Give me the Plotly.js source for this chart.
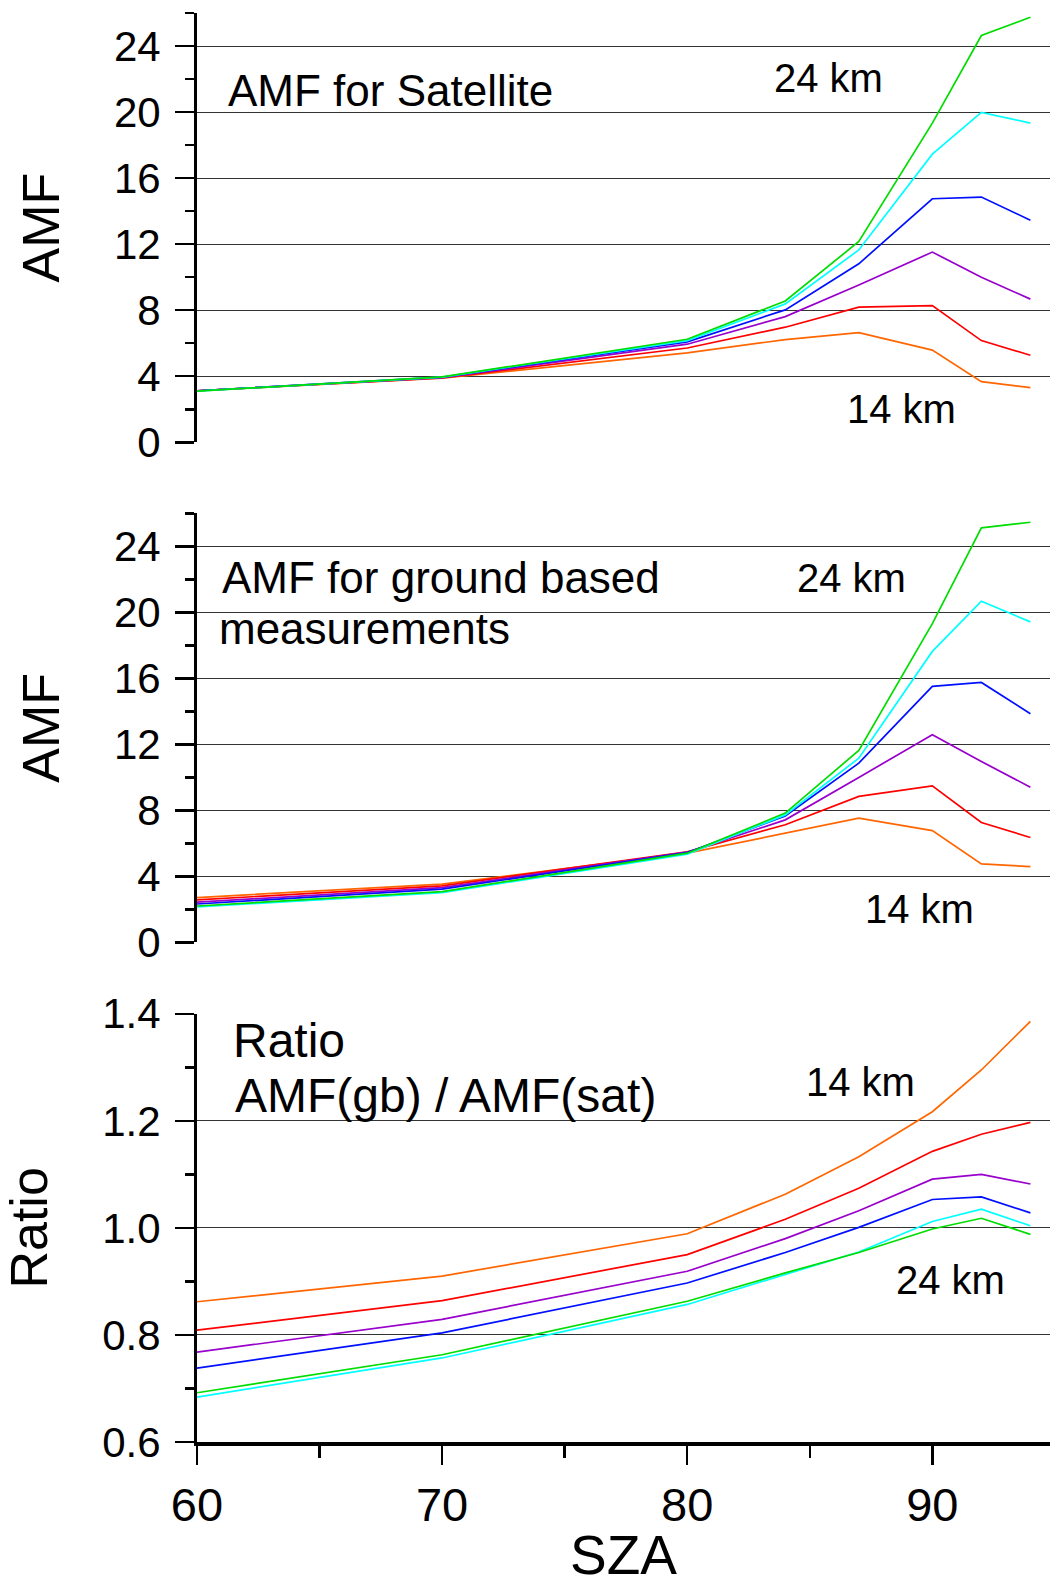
<!DOCTYPE html>
<html>
<head>
<meta charset="utf-8">
<script src="https://cdn.plot.ly/plotly-3.0.1.min.js"></script>
<style>
  html, body { margin: 0; padding: 0; background: #ffffff; }
  #chart { width: 1050px; height: 1586px; }
</style>
</head>
<body>
<div id="chart"></div>
<script>
// Solar zenith angles (x values)
const sza = [60, 70, 80, 84, 87, 90, 92, 94];

// Altitude labels for the six curves
const altitudes = ["14 km", "16 km", "18 km", "20 km", "22 km", "24 km"];
const colors = ["#ff6600", "#ff0000", "#9900cc", "#0010ff", "#00ffff", "#00dd00"];

// AMF for satellite
const sat14 = [3.12, 3.88, 5.41, 6.22, 6.64, 5.58, 3.67, 3.31];
const sat16 = [3.12, 3.90, 5.71, 6.97, 8.18, 8.28, 6.16, 5.27];
const sat18 = [3.12, 3.92, 5.94, 7.61, 9.53, 11.52, 10.00, 8.67];
const sat20 = [3.12, 3.94, 6.08, 8.02, 10.81, 14.75, 14.85, 13.45];
const sat22 = [3.10, 3.95, 6.16, 8.38, 11.65, 17.45, 19.98, 19.33];
const sat24 = [3.10, 3.96, 6.24, 8.56, 12.16, 19.33, 24.64, 25.74];

// AMF for ground based measurements
const gb14 = [2.71, 3.52, 5.40, 6.61, 7.52, 6.77, 4.75, 4.59];
const gb16 = [2.57, 3.42, 5.48, 7.12, 8.84, 9.48, 7.26, 6.35];
const gb18 = [2.43, 3.31, 5.46, 7.42, 9.99, 12.58, 10.96, 9.40];
const gb20 = [2.32, 3.22, 5.44, 7.66, 10.86, 15.51, 15.75, 13.85];
const gb22 = [2.14, 3.01, 5.34, 7.72, 11.16, 17.63, 20.67, 19.42];
const gb24 = [2.20, 3.07, 5.40, 7.83, 11.63, 19.31, 25.12, 25.46];

// Ratio AMF(gb) / AMF(sat)
const ratio14 = [0.862, 0.910, 0.989, 1.063, 1.133, 1.217, 1.295, 1.386];
const ratio16 = [0.809, 0.864, 0.950, 1.016, 1.074, 1.143, 1.175, 1.197];
const ratio18 = [0.768, 0.829, 0.919, 0.980, 1.032, 1.091, 1.100, 1.082];
const ratio20 = [0.738, 0.804, 0.897, 0.954, 1.001, 1.053, 1.058, 1.028];
const ratio22 = [0.684, 0.757, 0.857, 0.913, 0.955, 1.012, 1.035, 1.004];
const ratio24 = [0.692, 0.763, 0.863, 0.916, 0.954, 0.998, 1.018, 0.988];

const satSeries = [sat14, sat16, sat18, sat20, sat22, sat24];
const gbSeries = [gb14, gb16, gb18, gb20, gb22, gb24];
const ratioSeries = [ratio14, ratio16, ratio18, ratio20, ratio22, ratio24];

const FONT = "'Liberation Sans', Arial, Helvetica, sans-serif";

const traces = [];
function addPanel(series, xa, ya) {
  series.forEach((vals, i) => {
    traces.push({
      type: "scatter", mode: "lines",
      x: sza, y: vals, name: altitudes[i],
      xaxis: xa, yaxis: ya,
      line: { color: colors[i], width: 1.7 },
      hoverinfo: "x+y+name"
    });
  });
}
// draw order: orange first ... green last
addPanel(satSeries, "x3", "y3");
addPanel(gbSeries, "x2", "y2");
addPanel(ratioSeries, "x", "y");

const xRange = [60, 94.8];

const yCommon = {
  showline: true, linewidth: 3, linecolor: "#000",
  ticks: "outside", ticklen: 19, tickwidth: 2.5, tickcolor: "#000",
  showgrid: true, gridcolor: "#333", gridwidth: 1,
  zeroline: false,
  tickfont: { family: FONT, size: 42, color: "#000" },
  ticklabelstandoff: 6,
  title: { font: { family: FONT, size: 52, color: "#000" } }
};

const amfAxis = (domain, anchor) => Object.assign({}, yCommon, {
  domain: domain, anchor: anchor,
  range: [0, 26.001], dtick: 4, tick0: 0,
  minor: { dtick: 2, ticks: "outside", ticklen: 9, tickwidth: 2.5, tickcolor: "#000", showgrid: false },
  title: { text: "AMF", standoff: 38, font: { family: FONT, size: 52, color: "#000" } }
});

const hiddenX = (anchor) => ({
  anchor: anchor, matches: "x", range: xRange,
  showline: false, showgrid: false, zeroline: false,
  showticklabels: false, ticks: ""
});

const layout = {
  width: 1050, height: 1586,
  margin: { l: 197, r: 0, t: 13, b: 144 },
  paper_bgcolor: "#ffffff", plot_bgcolor: "#ffffff",
  showlegend: false,
  font: { family: FONT, color: "#000" },
  xaxis: {
    anchor: "y", range: xRange, domain: [0, 1],
    showline: true, linewidth: 3.5, linecolor: "#000",
    ticks: "outside", ticklen: 19, tickwidth: 2.5, tickcolor: "#000",
    dtick: 10, tick0: 60,
    minor: { dtick: 5, ticks: "outside", ticklen: 12, tickwidth: 2.5, tickcolor: "#000", showgrid: false },
    showgrid: false, zeroline: false,
    tickfont: { family: FONT, size: 47, color: "#000" },
    ticklabelstandoff: 0,
    title: { text: "SZA", standoff: 24, font: { family: FONT, size: 55, color: "#000" } }
  },
  xaxis2: hiddenX("y2"),
  xaxis3: hiddenX("y3"),
  yaxis: Object.assign({}, yCommon, {
    domain: [0, 0.2997], anchor: "x",
    range: [0.6, 1.4001], dtick: 0.2, tick0: 0.6, tickformat: ".1f",
    minor: { dtick: 0.1, ticks: "outside", ticklen: 9, tickwidth: 2.5, tickcolor: "#000", showgrid: false },
    title: { text: "Ratio", standoff: 48, font: { family: FONT, size: 52, color: "#000" } }
  }),
  yaxis2: amfAxis([0.3497, 0.6499], "x2"),
  yaxis3: amfAxis([0.6996, 1], "x3"),
  annotations: []
};

function note(text, x, y, size) {
  layout.annotations.push({
    text: text, xref: "paper", yref: "paper", x: x, y: y,
    xanchor: "left", yanchor: "middle", showarrow: false,
    font: { family: FONT, size: size, color: "#000" }
  });
}
note("AMF for Satellite", 0.0337, 0.9461, 44);
note("24 km", 0.6741, 0.9546, 40);
note("14 km", 0.7597, 0.7227, 40);
note("AMF for ground based", 0.0266, 0.6050, 44);
note("measurements", 0.0234, 0.5695, 44);
note("24 km", 0.7014, 0.6046, 40);
note("14 km", 0.7811, 0.3732, 40);
note("Ratio", 0.0399, 0.2811, 48);
note("AMF(gb) / AMF(sat)", 0.0422, 0.2425, 48);
note("14 km", 0.7116, 0.2516, 40);
note("24 km", 0.8168, 0.1136, 40);

Plotly.newPlot("chart", traces, layout, { staticPlot: true, displayModeBar: false });
</script>
</body>
</html>
